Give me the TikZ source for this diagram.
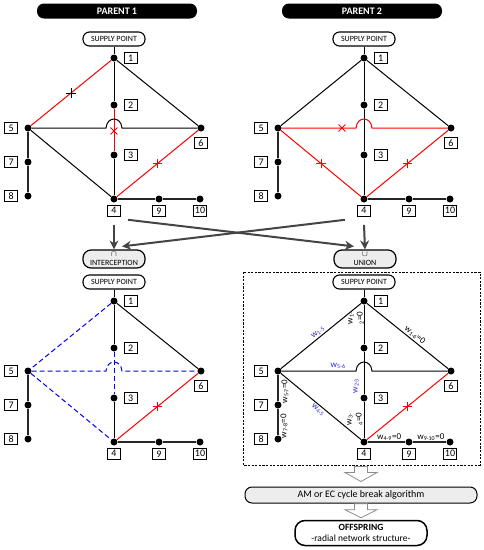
\documentclass[tikz,border=0pt]{standalone}
\usepackage{fontspec}
\setmainfont{Carlito}
\usetikzlibrary{arrows.meta,positioning,calc,shapes.misc}
\definecolor{cbox}{HTML}{EDEDED}
\definecolor{cflow}{HTML}{444444}
\definecolor{ccut}{HTML}{FF0000}
\definecolor{cmesh}{HTML}{0000FF}
\definecolor{cw}{HTML}{2828E8}

\newcommand{\wt}[1]{w\textsubscript{#1}}
% one ten-bus network: prefix, position of bus 1
\newcommand{\netnodes}[3]{%
  \begin{scope}[shift={(#2,#3)}]
    \node[dot] (#1-1) at (0,0) {};
    \node[dot] (#1-2) at (0,47) {};
    \node[dot] (#1-3) at (0,97) {};
    \node[dot] (#1-4) at (0,141) {};
    \node[dot] (#1-5) at (-86,70) {};
    \node[dot] (#1-6) at (87,70) {};
    \node[dot] (#1-7) at (-86,104) {};
    \node[dot] (#1-8) at (-86,138) {};
    \node[dot] (#1-9) at (45,141) {};
    \node[dot] (#1-10) at (86,141) {};
    \node[supply] (#1-sp) at (0,-19) {SUPPLY POINT};
  \end{scope}
  \node[num, right=6pt of #1-1] (#1-l1) {1};
  \node[num, right=6pt of #1-2] (#1-l2) {2};
  \node[num, right=6pt of #1-3] (#1-l3) {3};
  \node[num, below=2pt of #1-4] (#1-l4) {4};
  \node[num, left=6pt of #1-5] (#1-l5) {5};
  \node[num, below=5pt of #1-6] (#1-l6) {6};
  \node[num, left=6pt of #1-7] (#1-l7) {7};
  \node[num, left=6pt of #1-8] (#1-l8) {8};
  \node[num, below=2pt of #1-9] (#1-l9) {9};
  \node[num, below=2pt of #1-10] (#1-l10) {10};
  \draw[ln] (#1-sp) -- (#1-1);
  \draw[feed] (#1-4) -- (#1-9) -- (#1-10);
  \draw[feed] (#1-5) -- (#1-7) -- (#1-8);
}
% branch 5-6 hopping over the 1-4 feeder
\newcommand{\hopedge}[2]{%
  \draw[#2] (#1-5) -- ($(#1-5 -| #1-1)+(-8,0)$)
    .. controls +(1,-12) and +(-1,-12) .. ($(#1-5 -| #1-1)+(8,0)$) -- (#1-6);
}

\begin{document}
\begin{tikzpicture}[
  x=1pt, y=-1pt,
  dot/.style={circle, fill=black, minimum size=7pt, inner sep=0},
  num/.style={draw, line width=1.1pt, fill=white, minimum width=13pt, minimum height=11pt,
              inner sep=1pt, font=\fontsize{10}{10}\selectfont},
  supply/.style={draw, line width=1.1pt, fill=white, rounded corners=6.5pt, minimum width=62pt,
                 minimum height=14pt, inner sep=1pt, font=\fontsize{8}{8}\selectfont},
  banner/.style={fill=black, rounded corners=7pt, minimum width=160pt, minimum height=15pt,
                 text=white, font=\fontsize{10}{10}\selectfont\bfseries},
  opbox/.style={draw, line width=1.2pt, fill=cbox, rounded corners=8pt, minimum width=62pt,
                minimum height=18pt, inner sep=0.5pt, align=center, font=\fontsize{8}{8.5}\selectfont},
  wl/.style={font=\fontsize{9}{10}\selectfont, inner sep=1.5pt},
  cut/.style={cross out, draw=ccut, line width=0.9pt, minimum size=6pt, inner sep=0},
  flow/.style={-{Stealth[length=9pt, width=9pt]}, draw=cflow, line width=2pt},
  hollow/.style={draw=black!45, fill=white, line width=0.8pt},
  frame/.style={draw, line width=1pt, dash pattern=on 2.2pt off 1.4pt},
  ln/.style={draw=black, line width=1pt},
  feed/.style={draw=black!85, line width=1.3pt},
  cutln/.style={draw=ccut, line width=1pt},
  dln/.style={draw=cmesh, line width=1pt, dash pattern=on 5pt off 3pt},
]
\useasboundingbox (0,0) rectangle (484,550);

% ------------------------------------------------------------------ parents
\node[banner] (ban1) at (117,11) {PARENT 1};
\node[banner] (ban2) at (362,11) {PARENT 2};
\netnodes{p1}{114}{58}
\netnodes{p2}{364}{58}

\draw[ln] (p1-1) -- (p1-2);
\draw[cutln] (p1-2) -- (p1-3);
\draw[ln] (p1-3) -- (p1-4);
\draw[cutln] (p1-1) -- (p1-5);
\draw[ln] (p1-1) -- (p1-6);
\hopedge{p1}{ln}
\draw[ln] (p1-5) -- (p1-4);
\draw[cutln] (p1-6) -- (p1-4);
\node[cut, draw=black, rotate=45] at ($(p1-1)!0.5!(p1-5)$) {};
\node[cut] at ($(p1-2)!0.52!(p1-3)$) {};
\node[cut, rotate=45] at ($(p1-6)!0.5!(p1-4)$) {};

\draw[ln] (p2-1) -- (p2-2) -- (p2-3) -- (p2-4);
\draw[ln] (p2-1) -- (p2-5);
\draw[ln] (p2-1) -- (p2-6);
\hopedge{p2}{cutln}
\draw[cutln] (p2-5) -- (p2-4);
\draw[cutln] (p2-6) -- (p2-4);
\node[cut] at ($(p2-5)!0.37!(p2-6)$) {};
\node[cut, rotate=45] at ($(p2-5)!0.5!(p2-4)$) {};
\node[cut, rotate=45] at ($(p2-6)!0.5!(p2-4)$) {};

% ------------------------------------------------------------------ operators
\node[opbox] (inter) at (114,259) {$\cap$\\INTERCEPTION};
\node[opbox] (union) at (365,259) {$\cup$\\UNION};
\draw[flow] ([yshift=-8pt]p1-l4.south) -- (inter.north);
\draw[flow] ([yshift=-8pt]p2-l4.south) -- (union.north);
\draw[flow] ([shift={(7pt,-3pt)}]p1-l4.south east) -- ([shift={(-11pt,3pt)}]union.north);
\draw[flow] ([shift={(-12pt,-3pt)}]p2-l4.south west) -- ([shift={(8pt,3pt)}]inter.north);

% ------------------------------------------------------------------ interception
\netnodes{in}{114}{301}
\draw[ln] (in-1) -- (in-2);
\draw[dln] (in-2) -- (in-3);
\draw[ln] (in-3) -- (in-4);
\draw[dln] (in-1) -- (in-5);
\draw[ln] (in-1) -- (in-6);
\hopedge{in}{dln}
\draw[dln] (in-5) -- (in-4);
\draw[cutln] (in-6) -- (in-4);
\node[cut, rotate=45] at ($(in-6)!0.5!(in-4)$) {};

% ------------------------------------------------------------------ union
\draw[frame] (243,272) rectangle (480,465);
\netnodes{un}{364}{301}
\draw[ln] (un-1) -- (un-2) -- (un-3) -- (un-4);
\draw[ln] (un-5) -- node[wl, text=cw, sloped, above] {\wt{1-5}} (un-1);
\draw[ln] (un-1) -- node[wl, sloped, above, pos=0.55] {\wt{1-6}=0} (un-6);
\draw[ln] (un-5) -- node[wl, text=cw, above, pos=0.76] {\wt{5-6}} ($(un-5 -| un-1)+(-8,0)$)
  .. controls +(1,-12) and +(-1,-12) .. ($(un-5 -| un-1)+(8,0)$) -- (un-6);
\draw[ln] (un-5) -- node[wl, text=cw, sloped, below] {\wt{4-5}} (un-4);
\draw[cutln] (un-6) -- (un-4);
\node[cut, rotate=45] at ($(un-6)!0.5!(un-4)$) {};
\node[wl, rotate=90, align=left] at ($(un-1)!0.36!(un-2)+(-8,0)$) {\wt{1-}\\\textsubscript{2}=0};
\node[wl, rotate=90, text=cw] at ($(un-2)!0.76!(un-3)+(-8,0)$) {\wt{2-3}};
\node[wl, rotate=90, align=left] at ($(un-3)!0.48!(un-4)+(-9,0)$) {\wt{3-}\\\textsubscript{4}=0};
\node[wl, rotate=90] at ($(un-5)!0.6!(un-7)+(7,0)$) {\wt{5-7}=0};
\node[wl, rotate=90] at ($(un-7)!0.62!(un-8)+(6,0)$) {\wt{7-8}=0};
\path (un-4) -- node[wl, above, pos=0.57] {\wt{4-9}=0} (un-9);
\path (un-9) -- node[wl, above, pos=0.54] {\wt{9-10}=0} (un-10);

% ------------------------------------------------------------------ cycle break
\node[draw, line width=1pt, fill=cbox, rounded corners=7pt, minimum width=232pt, minimum height=16pt,
      inner sep=1pt, font=\fontsize{10}{10}\selectfont] (am) at (361,495) {AM or EC cycle break algorithm};
\node[draw, line width=1.5pt, fill=white, rounded corners=10pt, minimum width=132pt, minimum height=25pt,
      inner sep=1pt, align=center, font=\fontsize{9.5}{10.5}\selectfont] (off) at (361,533)
      {\textbf{OFFSPRING}\\-radial network structure-};
\coordinate (ha1) at ($(am.north)+(0,-20)$);
\coordinate (ha2) at ($(off.north)+(0,-16)$);
\draw[hollow] ($(ha1)+(-6.5,0)$) -- ++(13,0) -- ++(0,6) -- ++(9.5,0) -- ($(ha1)+(0,15)$)
  -- ($(ha1)+(-16,6)$) -- ++(9.5,0) -- cycle;
\draw[hollow] ($(ha2)+(-6.5,0)$) -- ++(13,0) -- ++(0,6) -- ++(9.5,0) -- ($(ha2)+(0,14)$)
  -- ($(ha2)+(-16,6)$) -- ++(9.5,0) -- cycle;
\end{tikzpicture}
\end{document}
